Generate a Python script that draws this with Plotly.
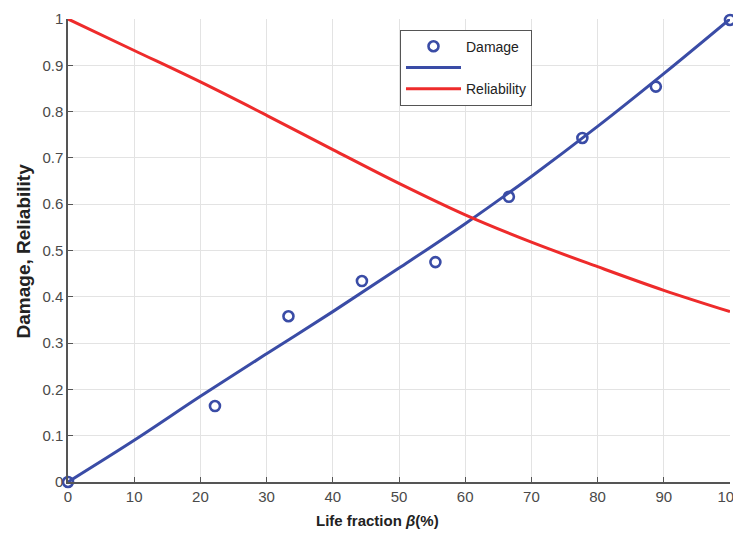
import plotly.graph_objects as go

# Data
beta_pts = [0, 22.2, 33.3, 44.4, 55.5, 66.6, 77.7, 88.8, 100]
damage_pts = [0.0, 0.164, 0.358, 0.434, 0.475, 0.616, 0.743, 0.854, 0.998]

beta_curve = [0, 10, 20, 30, 40, 50, 60, 70, 80, 90, 100]
damage_curve = [0.0, 0.090, 0.185, 0.277, 0.368, 0.462, 0.558, 0.660, 0.768, 0.882, 1.0]
reliability_curve = [1.0, 0.932, 0.864, 0.792, 0.718, 0.645, 0.577, 0.518, 0.465, 0.414, 0.368]

x_ticks = list(range(0, 101, 10))
y_ticks = [0, 0.1, 0.2, 0.3, 0.4, 0.5, 0.6, 0.7, 0.8, 0.9, 1]
y_tick_text = ["0", "0.1", "0.2", "0.3", "0.4", "0.5", "0.6", "0.7", "0.8", "0.9", "1"]

x_title = "<b>Life fraction </b><b><i>β</i></b><b>(%)</b>"
y_title = "<b>Damage, Reliability</b>"

BLUE = "#3a4ca6"
RED = "#ee2b2b"
FONT = "Liberation Sans, Arial, sans-serif"

fig = go.Figure()
fig.add_trace(go.Scatter(
    x=beta_curve, y=damage_curve, mode="lines", name=" ", legendrank=2,
    line=dict(color=BLUE, width=3, shape="spline", smoothing=1.0),
    cliponaxis=False,
))
fig.add_trace(go.Scatter(
    x=beta_curve, y=reliability_curve, mode="lines", name="Reliability", legendrank=3,
    line=dict(color=RED, width=3, shape="spline", smoothing=1.0),
    cliponaxis=False,
))
fig.add_trace(go.Scatter(
    x=beta_pts, y=damage_pts, mode="markers", name="Damage", legendrank=1,
    marker=dict(symbol="circle-open", size=10, color=BLUE, line=dict(width=2.6, color=BLUE)),
    cliponaxis=False,
))

# page body has an 8px margin, so the figure is a little smaller than the window
fig.update_layout(
    width=733, height=525,
    margin=dict(l=60, r=11, t=11, b=51, autoexpand=False),
    paper_bgcolor="white", plot_bgcolor="white",
    font=dict(family=FONT, size=15, color="#4a4a4a"),
    showlegend=True,
    legend=dict(
        x=0.5015, y=0.977, xanchor="left", yanchor="top",
        bgcolor="white", bordercolor="#555555", borderwidth=1,
        font=dict(family=FONT, size=14, color="#222222"),
        itemwidth=55, traceorder="normal", tracegroupgap=0,
        entrywidth=84, entrywidthmode="pixels",
    ),
    xaxis=dict(
        range=[0, 100], tickvals=x_ticks, ticks="inside", ticklen=5, tickcolor="#555555",
        showline=True, linecolor="#555555", linewidth=1.5, automargin=False,
        ticklabeloverflow="allow",
        showgrid=True, gridcolor="#e3e3e3", gridwidth=1, zeroline=False,
        tickfont=dict(family=FONT, size=15, color="#4a4a4a"),
    ),
    yaxis=dict(
        range=[0, 1], tickvals=y_ticks, ticktext=y_tick_text, ticks="inside", ticklen=5, tickcolor="#555555",
        showline=True, linecolor="#555555", linewidth=1.5, automargin=False,
        ticklabeloverflow="allow",
        showgrid=True, gridcolor="#e3e3e3", gridwidth=1, zeroline=False,
        tickfont=dict(family=FONT, size=15, color="#4a4a4a"),
    ),
    annotations=[
        dict(text=x_title, xref="paper", yref="paper", x=0.4668, y=-0.0842,
             xanchor="center", yanchor="middle", showarrow=False,
             font=dict(family=FONT, size=15, color="#222222")),
        dict(text=y_title, xref="paper", yref="paper", x=-0.0665, y=0.5,
             xanchor="center", yanchor="middle", showarrow=False, textangle=-90,
             font=dict(family=FONT, size=19, color="#222222")),
    ],
)

fig.write_html("out.html")
